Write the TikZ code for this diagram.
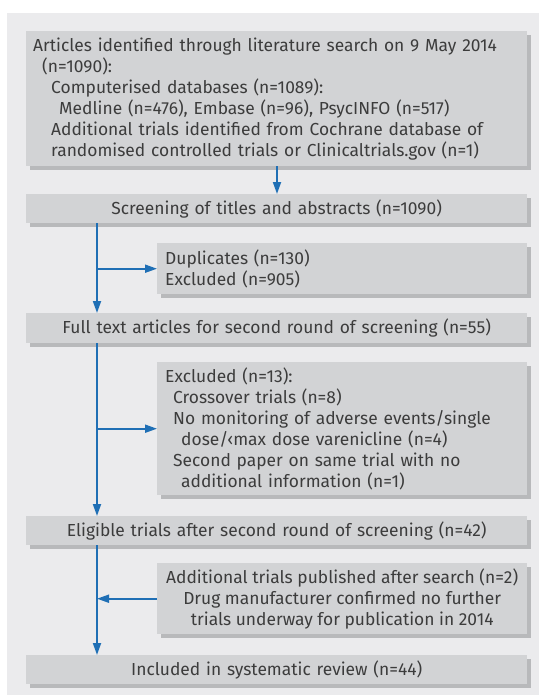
\documentclass[tikz,border=0pt]{standalone}
\usepackage{fontspec}
\setmainfont{Fira Sans}
\usetikzlibrary{arrows.meta}
\definecolor{bgc}{HTML}{EBEBED}
\definecolor{boxc}{HTML}{D2D3D5}
\definecolor{shad}{HTML}{B8B9BB}
\definecolor{arrc}{HTML}{1F6FB5}
\definecolor{txt}{HTML}{3C3C3C}
\begin{document}
\begin{tikzpicture}[x=1pt,y=1pt,
  box/.style={fill=boxc, preaction={fill=shad, transform canvas={shift={(3.5pt,-3.5pt)}}},
    inner ysep=0pt, text=txt, font=\fontsize{17.4}{21}\selectfont, anchor=north west},
  mainbox/.style={box, inner xsep=7pt, text width=487pt, minimum width=501pt},
  sidebox/.style={box, inner xsep=8pt, text width=354pt, minimum width=370pt},
  sideboxc/.style={box, inner xsep=1pt, minimum width=370pt, align=center},
  ln/.style={draw=arrc, line width=1.8pt},
  arr/.style={ln, -{Triangle[length=12pt,width=8pt]}}]
\useasboundingbox (0,0) rectangle (539,-695);
\fill[bgc] (7,-13) rectangle (539,-695);

\node[mainbox, align=left, minimum height=135pt] (b1) at (26,-31)
 {Articles identified through literature search on 9 May 2014\\
  \hspace*{9pt}(n=1090):\\
  \hspace*{18pt}Computerised databases (n=1089):\\
  \hspace*{26pt}Medline (n=476), Embase (n=96), PsycINFO (n=517)\\
  \hspace*{18pt}Additional trials identified from Cochrane database of\\
  \hspace*{18pt}randomised controlled trials or Clinicaltrials.gov (n=1)};

\node[mainbox, align=center, minimum height=29pt] (b2) at (26,-194)
 {Screening of titles and abstracts (n=1090)};

\node[sidebox, align=left, minimum height=51pt] (b3) at (157,-243)
 {Duplicates (n=130)\\Excluded (n=905)};

\node[mainbox, align=center, minimum height=30pt] (b4) at (26,-313)
 {Full text articles for second round of screening (n=55)};

\node[sidebox, align=left, minimum height=133pt] (b5) at (157,-362)
 {Excluded (n=13):\\
  \hspace*{8pt}Crossover trials (n=8)\\
  \hspace*{8pt}No monitoring of adverse events/single\\
  \hspace*{16pt}dose/‹max dose varenicline (n=4)\\
  \hspace*{8pt}Second paper on same trial with no\\
  \hspace*{16pt}additional information (n=1)};

\node[mainbox, align=center, minimum height=29pt] (b6) at (26,-516)
 {Eligible trials after second round of screening (n=42)};

\node[sideboxc, minimum height=71pt] (b7) at (157,-563)
 {Additional trials published after search (n=2)\\
  Drug manufacturer confirmed no further\\
  trials underway for publication in 2014};

\node[mainbox, align=center, minimum height=29pt] (b8) at (26,-655)
 {Included in systematic review (n=44)};

\coordinate (sp) at (97,0);
\coordinate (mid) at (277,0);

\draw[arr] (b1.south -| mid) -- (b2.north -| mid);
\draw[arr] (b2.south -| sp) -- (b4.north -| sp);
\draw[arr] (sp |- b3.west) -- (b3.west);
\draw[arr] (b4.south -| sp) -- (b6.north -| sp);
\draw[arr] (sp |- b5.west) -- (b5.west);
\draw[arr] (b6.south -| sp) -- (b8.north -| sp);
\draw[arr] (b7.west) -- (sp |- b7.west);
\end{tikzpicture}
\end{document}
